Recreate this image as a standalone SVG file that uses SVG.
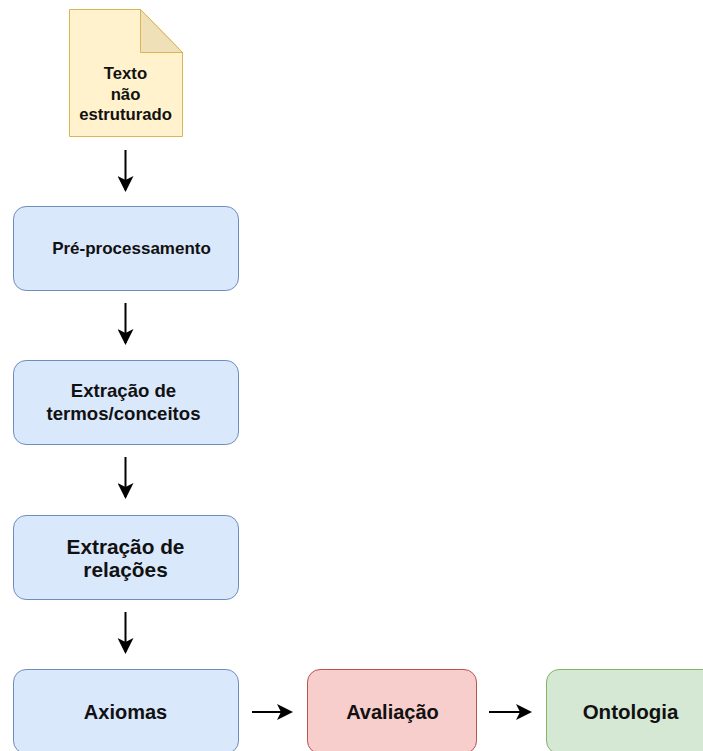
<svg xmlns="http://www.w3.org/2000/svg" width="703" height="751" viewBox="0 0 703 751">
  <style>
    text { font-family: "Liberation Sans", Arial, sans-serif; font-weight: bold; fill: #111; text-anchor: middle; }
    .blue { fill: #dae8fc; stroke: #6c8ebf; stroke-width: 1; }
    .red { fill: #f8cecc; stroke: #b85450; stroke-width: 1; }
    .green { fill: #d5e8d4; stroke: #82b366; stroke-width: 1; }
    .doc { fill: #fff2cc; stroke: #d6b656; stroke-width: 1; }
    .fold { fill: #efe0b8; stroke: #d6b656; stroke-width: 1; stroke-linejoin: round; }
    .edge { fill: none; stroke: #000; stroke-width: 2; marker-end: url(#arrow); }
  </style>
  <defs>
    <marker id="arrow" markerUnits="userSpaceOnUse" viewBox="0 0 16 16" markerWidth="16" markerHeight="16" refX="14" refY="8" orient="auto">
      <path d="M0,0 L16,8 L0,16 L4,8 Z" fill="#000"/>
    </marker>
  </defs>

  <rect width="703" height="751" fill="#fff"/>

  <!-- Source document -->
  <g id="texto">
    <path class="doc" d="M69.5,9.5 H140.5 L182.5,52.5 V136.5 H69.5 Z"/>
    <path class="fold" d="M140.5,9.5 V52.5 H182.5 Z"/>
    <text x="125.5" y="79" font-size="16.7">Texto</text>
    <text x="125.5" y="99.5" font-size="16.7">não</text>
    <text x="125.5" y="120" font-size="16.7">estruturado</text>
  </g>

  <g id="pre-processamento">
    <rect class="blue" x="13.5" y="206.5" width="225" height="84" rx="12.6"/>
    <text x="131.5" y="254" font-size="17">Pré-processamento</text>
  </g>

  <g id="extracao-termos">
    <rect class="blue" x="13.5" y="360.5" width="225" height="84" rx="12.6"/>
    <text x="123.5" y="397" font-size="18.6">Extração de</text>
    <text x="123.5" y="419.5" font-size="18.6">termos/conceitos</text>
  </g>

  <g id="extracao-relacoes">
    <rect class="blue" x="13.5" y="515.5" width="225" height="84" rx="12.6"/>
    <text x="125.5" y="554" font-size="20.8">Extração de</text>
    <text x="125.5" y="577" font-size="20.8">relações</text>
  </g>

  <g id="axiomas">
    <rect class="blue" x="13.5" y="669.5" width="225" height="84" rx="12.6"/>
    <text x="125.5" y="719" font-size="20">Axiomas</text>
  </g>

  <g id="avaliacao">
    <rect class="red" x="307.5" y="669.5" width="169" height="84" rx="12.6"/>
    <text x="392.5" y="719" font-size="20">Avaliação</text>
  </g>

  <g id="ontologia">
    <rect class="green" x="546.5" y="669.5" width="169" height="84" rx="12.6"/>
    <text x="630.5" y="719" font-size="20.5">Ontologia</text>
  </g>

  <!-- Connectors -->
  <g id="connectors">
    <line class="edge" x1="125.5" y1="150" x2="125.5" y2="190"/>
    <line class="edge" x1="125.5" y1="303" x2="125.5" y2="343"/>
    <line class="edge" x1="125.5" y1="457" x2="125.5" y2="497"/>
    <line class="edge" x1="125.5" y1="612" x2="125.5" y2="652"/>
    <line class="edge" x1="252" y1="712" x2="291" y2="712"/>
    <line class="edge" x1="489" y1="712" x2="530" y2="712"/>
  </g>
</svg>
